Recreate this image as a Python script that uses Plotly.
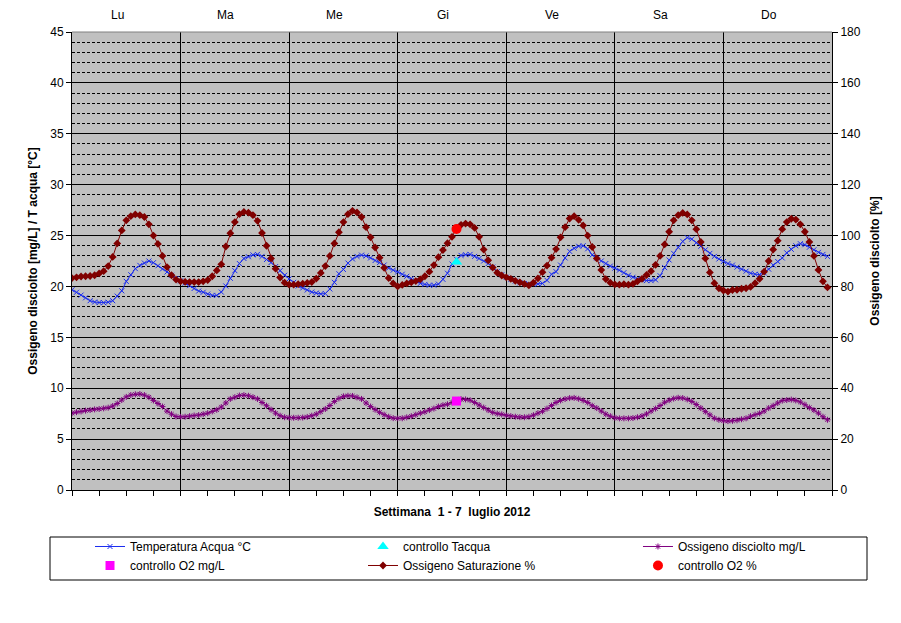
import plotly.graph_objects as go

hours = list(range(168))
day_labels = ["Lu", "Ma", "Me", "Gi", "Ve", "Sa", "Do"]

temp_acqua = [
    19.67, 19.43, 19.15, 18.88, 18.60, 18.47, 18.42, 18.40, 18.45, 18.60, 19.05, 19.57,
    20.50, 21.15, 21.75, 22.07, 22.30, 22.50, 22.33, 22.03, 21.72, 21.42, 21.10, 20.78,
    20.55, 20.33, 20.08, 19.80, 19.55, 19.43, 19.25, 19.12, 19.12, 19.45, 20.05, 20.80,
    21.55, 22.25, 22.75, 22.92, 23.10, 23.15, 22.95, 22.65, 22.35, 21.95, 21.55, 21.10,
    20.75, 20.40, 20.05, 19.85, 19.65, 19.45, 19.35, 19.27, 19.30, 19.75, 20.40, 21.25,
    21.67, 22.30, 22.70, 22.95, 23.08, 23.00, 22.80, 22.55, 22.35, 22.10, 21.80, 21.60,
    21.42, 21.20, 21.00, 20.78, 20.55, 20.30, 20.20, 20.12, 20.12, 20.23, 20.70, 21.30,
    22.20, 22.67, 23.05, 23.12, 23.15, 22.95, 22.75, 22.50, 22.25, 21.90, 21.45, 21.15,
    20.90, 20.70, 20.52, 20.35, 20.28, 20.23, 20.23, 20.25, 20.30, 20.60, 21.20, 21.45,
    22.10, 22.80, 23.45, 23.75, 23.95, 24.00, 23.70, 23.10, 22.80, 22.50, 22.25, 22.00,
    21.80, 21.60, 21.35, 21.10, 20.90, 20.75, 20.62, 20.57, 20.57, 20.65, 21.05, 21.85,
    22.60, 23.25, 23.83, 24.43, 24.80, 24.65, 24.30, 23.95, 23.60, 23.25, 22.95, 22.70,
    22.45, 22.25, 22.10, 21.90, 21.70, 21.50, 21.30, 21.20, 21.17, 21.33, 21.70, 22.10,
    22.45, 22.80, 23.30, 23.65, 24.00, 24.20, 24.10, 23.85, 23.60, 23.35, 23.15, 22.95,
]

ossigeno_mgl = [
    7.55, 7.65, 7.72, 7.80, 7.86, 7.92, 7.96, 8.02, 8.09, 8.25, 8.50, 8.84,
    9.15, 9.33, 9.40, 9.43, 9.33, 9.12, 8.80, 8.50, 8.20, 7.75, 7.45, 7.22,
    7.18, 7.20, 7.26, 7.32, 7.36, 7.45, 7.55, 7.72, 7.88, 8.15, 8.55, 8.95,
    9.12, 9.28, 9.32, 9.26, 9.12, 8.95, 8.60, 8.28, 7.90, 7.55, 7.30, 7.15,
    7.10, 7.10, 7.10, 7.12, 7.18, 7.30, 7.45, 7.70, 7.96, 8.30, 8.70, 9.00,
    9.20, 9.26, 9.24, 9.10, 8.95, 8.55, 8.20, 7.90, 7.63, 7.40, 7.20, 7.06,
    7.04, 7.05, 7.14, 7.25, 7.40, 7.55, 7.68, 7.85, 8.00, 8.20, 8.33, 8.42,
    8.60, 8.80, 8.92, 8.90, 8.82, 8.60, 8.35, 8.10, 7.85, 7.62, 7.50, 7.43,
    7.33, 7.26, 7.20, 7.16, 7.15, 7.20, 7.35, 7.55, 7.73, 8.00, 8.30, 8.60,
    8.80, 8.94, 9.03, 9.05, 8.96, 8.80, 8.60, 8.28, 8.05, 7.75, 7.45, 7.25,
    7.10, 7.04, 7.04, 7.04, 7.07, 7.15, 7.27, 7.47, 7.75, 8.00, 8.30, 8.62,
    8.82, 8.98, 9.06, 9.03, 8.90, 8.70, 8.40, 8.05, 7.70, 7.38, 7.05, 6.90,
    6.80, 6.77, 6.80, 6.85, 6.95, 7.04, 7.25, 7.40, 7.53, 7.75, 8.05, 8.28,
    8.55, 8.78, 8.84, 8.88, 8.80, 8.65, 8.38, 8.10, 7.85, 7.55, 7.20, 6.90,
]

saturazione_pct = [
    83.3, 83.6, 83.9, 84.0, 84.1, 84.4, 85.1, 86.0, 88.0, 91.6, 96.9, 102.0,
    106.0, 107.6, 108.3, 108.0, 107.3, 104.4, 100.0, 96.7, 92.0, 87.6, 84.4, 82.7,
    82.0, 81.8, 81.7, 81.7, 81.7, 82.0, 82.5, 84.0, 86.3, 88.7, 95.7, 100.9,
    105.3, 108.4, 109.3, 109.0, 108.0, 105.8, 101.0, 96.0, 91.0, 87.0, 83.5, 81.5,
    80.7, 80.7, 80.9, 81.1, 81.4, 81.7, 83.1, 85.3, 88.0, 92.0, 96.9, 101.3,
    105.3, 108.4, 109.7, 109.1, 107.3, 103.3, 99.3, 95.3, 91.3, 87.3, 83.3, 81.2,
    80.0, 80.6, 81.2, 81.6, 82.1, 82.8, 84.0, 85.8, 88.4, 91.5, 94.3, 97.0,
    99.5, 102.8, 104.2, 104.7, 104.4, 103.0, 99.5, 94.5, 90.3, 87.4, 85.4, 84.3,
    83.6, 83.0, 82.2, 81.6, 81.0, 80.4, 81.5, 83.2, 85.6, 88.2, 91.3, 94.7,
    99.3, 103.3, 106.7, 107.6, 106.2, 104.0, 100.0, 95.5, 91.0, 86.5, 82.9, 81.5,
    80.8, 80.7, 80.9, 80.7, 81.0, 82.0, 83.0, 84.5, 86.0, 88.5, 92.0, 96.5,
    101.5, 106.0, 108.0, 108.9, 108.3, 106.0, 102.5, 97.5, 91.0, 85.5, 81.3, 79.3,
    78.4, 78.0, 78.6, 78.7, 79.1, 79.3, 79.8, 81.3, 83.0, 85.8, 90.0, 94.5,
    98.0, 102.5, 105.3, 106.6, 106.3, 104.4, 101.5, 97.5, 92.0, 86.5, 82.0, 79.6,
]

controllo_ora = [85.0]
controllo_tacqua = [22.4]
controllo_o2_mgl = [8.74]
controllo_o2_pct = [102.6]

FONT = "Liberation Sans, Arial, sans-serif"

fig = go.Figure()

# legend columns: legend (col 1), legend2 (col 2), legend3 (col 3)
fig.add_trace(go.Scatter(
    x=hours, y=temp_acqua, name="Temperatura Acqua °C", mode="lines+markers",
    line=dict(color="#1a2cf0", width=1),
    marker=dict(symbol="x-thin", size=5, line=dict(color="#1a2cf0", width=1)),
    legend="legend", legendrank=1))
fig.add_trace(go.Scatter(
    x=hours, y=ossigeno_mgl, name="Ossigeno disciolto mg/L", mode="lines+markers",
    line=dict(color="#800080", width=1),
    marker=dict(symbol="asterisk-open", size=5, line=dict(color="#800080", width=1)),
    legend="legend3", legendrank=1))
fig.add_trace(go.Scatter(
    x=hours, y=saturazione_pct, name="Ossigeno Saturazione %", mode="lines+markers",
    line=dict(color="#800000", width=1),
    marker=dict(symbol="diamond", size=6, color="#800000"),
    yaxis="y2", legend="legend2", legendrank=2))
fig.add_trace(go.Scatter(
    x=controllo_ora, y=controllo_tacqua, name="controllo Tacqua", mode="markers",
    marker=dict(symbol="triangle-up", size=10, color="#00FFFF"),
    legend="legend2", legendrank=1))
fig.add_trace(go.Scatter(
    x=controllo_ora, y=controllo_o2_mgl, name="controllo O2 mg/L", mode="markers",
    marker=dict(symbol="square", size=9, color="#FF00FF"),
    legend="legend", legendrank=2))
fig.add_trace(go.Scatter(
    x=controllo_ora, y=controllo_o2_pct, name="controllo O2 %", mode="markers",
    marker=dict(symbol="circle", size=10, color="#FF0000"),
    yaxis="y2", legend="legend3", legendrank=2))

annotations = []
for i, lab in enumerate(day_labels):
    annotations.append(dict(
        x=i * 24 + 10, y=1, xref="x", yref="paper", yshift=26,
        text=lab, showarrow=False, font=dict(family=FONT, size=12, color="black")))


def legend_col(xpos):
    return dict(orientation="v", x=xpos, xanchor="left", y=-0.0917, yanchor="top",
                bgcolor="rgba(0,0,0,0)", borderwidth=0, itemwidth=30,
                traceorder="normal", font=dict(family=FONT, size=12, color="black"))


# page body has an 8px default margin; the figure is sized/offset to compensate
fig.update_layout(
    width=893, height=615,
    margin=dict(l=64, r=69, t=24, b=133),
    paper_bgcolor="white", plot_bgcolor="#C0C0C0",
    font=dict(family=FONT, size=12, color="black"),
    showlegend=True,
    legend=legend_col(0.0237),
    legend2=legend_col(0.3829),
    legend3=legend_col(0.7447),
    xaxis=dict(range=[0, 168], showticklabels=False, dtick=24, tick0=0,
               ticks="outside", ticklen=5, tickcolor="black",
               showgrid=True, gridcolor="black", gridwidth=1,
               showline=True, linecolor="black", linewidth=1, zeroline=False,
               minor=dict(dtick=6, ticks="outside", ticklen=5, tickcolor="black", showgrid=False),
               title=dict(text="<b>Settimana  1 - 7  luglio 2012</b>", standoff=12,
                          font=dict(family=FONT, size=12))),
    yaxis=dict(range=[0, 45], dtick=5, ticks="outside", ticklen=5, tickcolor="black",
               showgrid=True, gridcolor="black", gridwidth=1, zeroline=False,
               showline=True, linecolor="black", linewidth=1,
               minor=dict(dtick=1, showgrid=True, gridcolor="black", gridwidth=1,
                          griddash="3px,2px"),
               title=dict(text="<b>Ossigeno disciolto [mg/L] / T acqua [°C]</b>",
                          standoff=10, font=dict(family=FONT, size=12))),
    yaxis2=dict(range=[0, 180], dtick=20, overlaying="y", side="right",
                ticks="outside", ticklen=5, tickcolor="black", showgrid=False,
                zeroline=False, showline=True, linecolor="black", linewidth=1,
                title=dict(text="<b>Ossigeno disciolto [%]</b>", standoff=10,
                           font=dict(family=FONT, size=12))),
    annotations=annotations,
    shapes=[
        dict(type="line", xref="paper", yref="paper", x0=0, x1=1, y0=1, y1=1,
             line=dict(color="#808080", width=1)),
        dict(type="rect", xref="paper", yref="paper",
             x0=(50 - 72) / 760, x1=(867 - 72) / 760,
             y0=(490 - 580) / 458, y1=(490 - 537) / 458,
             line=dict(color="black", width=1), fillcolor="rgba(0,0,0,0)"),
    ],
)

fig.write_html("out.html")
